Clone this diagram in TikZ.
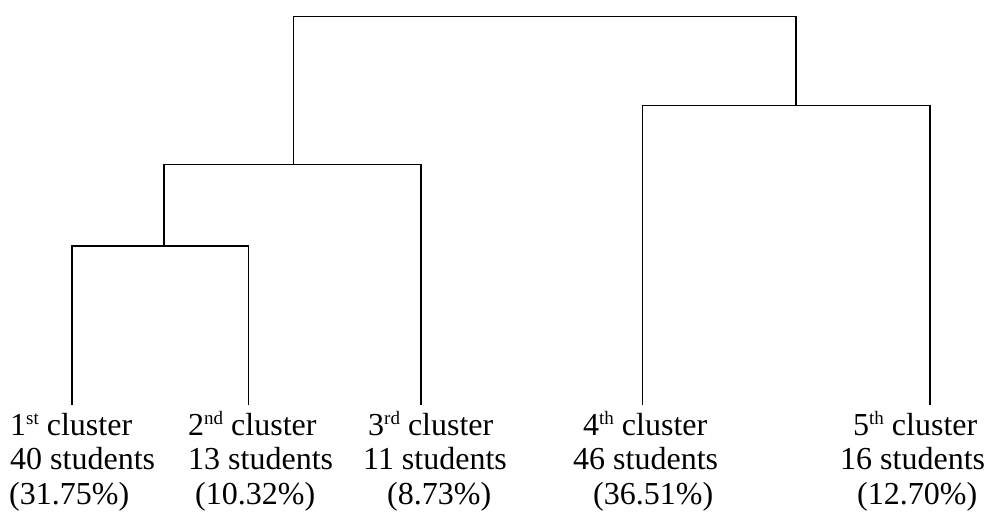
\documentclass[tikz,border=0pt]{standalone}
\usepackage{fontspec}
\setmainfont{Liberation Serif}
\newcommand\supx[1]{\raisebox{10.5pt}{\fontsize{19}{19}\selectfont #1}}
\begin{document}
\begin{tikzpicture}[x=1pt,y=-1pt,
  link/.style={draw=black,line width=1.3pt,line cap=rect},
  lbl/.style={anchor=base west,inner sep=0pt,font=\fontsize{32}{35}\selectfont}]
\useasboundingbox (0,0) rectangle (984,513);
% leaves
\coordinate (l1) at (72,404);
\coordinate (l2) at (248.5,404);
\coordinate (l3) at (421,404);
\coordinate (l4) at (642.5,404);
\coordinate (l5) at (930,404);
% merge points
\coordinate (m12) at (164,246);
\coordinate (m123) at (293.7,164.7);
\coordinate (m45) at (796,105.7);
\coordinate (root) at (796,16.7);
% connectors
\draw[link] (l1) |- (m12) -| (l2);
\draw[link] (m12) |- (m123) -| (l3);
\draw[link] (l4) |- (m45) -| (l5);
\draw[link] (m123) |- (root) -- (m45);
% labels
\node[lbl] (a1) at (10,435) {1\supx{st} cluster};
\node[lbl] (a2) at (10,469.5) {40 students};
\node[lbl] (a3) at (9,504) {(31.75\%)};
\node[lbl] (b1) at (188,435) {2\supx{nd} cluster};
\node[lbl] (b2) at (188,469.5) {13 students};
\node[lbl] (b3) at (195,504) {(10.32\%)};
\node[lbl] (c1) at (368,435) {3\supx{rd} cluster};
\node[lbl] (c2) at (363,469.5) {11 students};
\node[lbl] (c3) at (387,504) {(8.73\%)};
\node[lbl] (d1) at (583,435) {4\supx{th} cluster};
\node[lbl] (d2) at (573,469.5) {46 students};
\node[lbl] (d3) at (593,504) {(36.51\%)};
\node[lbl] (e1) at (853,435) {5\supx{th} cluster};
\node[lbl] (e2) at (840,469.5) {16 students};
\node[lbl] (e3) at (857,504) {(12.70\%)};
\end{tikzpicture}
\end{document}
